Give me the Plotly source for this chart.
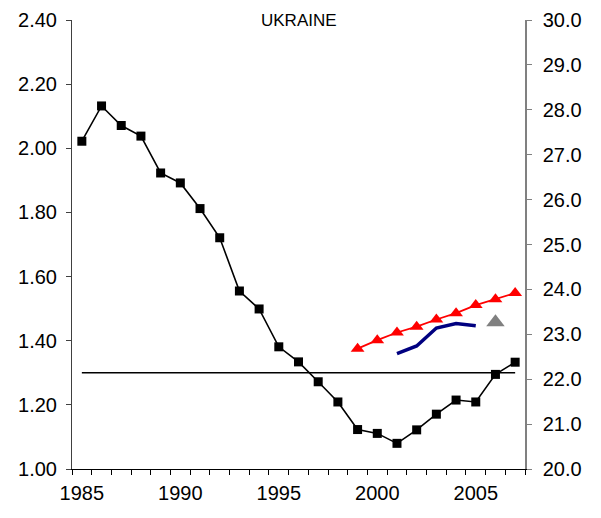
import plotly.graph_objects as go

years = list(range(1985, 2008))
black_vals = [2.022, 2.132, 2.071, 2.038, 1.923, 1.892, 1.812, 1.721, 1.555, 1.499,
              1.381, 1.334, 1.272, 1.209, 1.123, 1.111, 1.080, 1.122, 1.171, 1.215,
              1.209, 1.295, 1.333]
red_years = list(range(1999, 2008))
red_vals = [22.68, 22.87, 23.04, 23.17, 23.33, 23.47, 23.65, 23.78, 23.92]
blue_years = list(range(2001, 2006))
blue_vals = [22.57, 22.74, 23.14, 23.24, 23.19]
gray_years = [2006]
gray_vals = [23.27]
ref_years = [1985, 2007]
ref_vals = [1.30, 1.30]

left_ticks = [1.0, 1.2, 1.4, 1.6, 1.8, 2.0, 2.2, 2.4]
right_ticks = [20.0, 21.0, 22.0, 23.0, 24.0, 25.0, 26.0, 27.0, 28.0, 29.0, 30.0]
year_labels = [1985, 1990, 1995, 2000, 2005]
title_text = "UKRAINE"

half_years = [y - 0.5 for y in years] + [years[-1] + 0.5]

FONT = "Liberation Sans, Arial, sans-serif"

fig = go.Figure()
fig.add_trace(go.Scatter(x=ref_years, y=ref_vals, mode="lines",
                         line=dict(color="black", width=1.5), xaxis="x", yaxis="y",
                         showlegend=False, hoverinfo="skip"))
fig.add_trace(go.Scatter(x=years, y=black_vals, mode="lines+markers",
                         line=dict(color="black", width=1.6),
                         marker=dict(symbol="square", size=9, color="black"),
                         xaxis="x", yaxis="y", showlegend=False))
fig.add_trace(go.Scatter(x=red_years, y=red_vals, mode="lines+markers",
                         line=dict(color="#ff0000", width=1.8),
                         marker=dict(symbol="triangle-up", size=12, color="#ff0000"),
                         xaxis="x", yaxis="y2", showlegend=False))
fig.add_trace(go.Scatter(x=blue_years, y=blue_vals, mode="lines",
                         line=dict(color="#000080", width=3.5),
                         xaxis="x", yaxis="y2", showlegend=False))
fig.add_trace(go.Scatter(x=gray_years, y=gray_vals, mode="markers",
                         marker=dict(symbol="triangle-up", size=16, color="#808080"),
                         xaxis="x", yaxis="y2", showlegend=False))

fig.update_layout(
    width=593, height=510,
    margin=dict(l=64, r=76, t=12, b=49, autoexpand=False),
    paper_bgcolor="white", plot_bgcolor="white",
    font=dict(family=FONT, size=20, color="black"),
    xaxis=dict(range=[1984.5, 2007.5], tickvals=year_labels, ticks="",
               showgrid=False, zeroline=False, showline=True, linecolor="black",
               linewidth=1, ticklabelstandoff=6, automargin=False,
               minor=dict(tickvals=half_years, ticks="outside", ticklen=5,
                          tickcolor="black", tickwidth=1)),
    xaxis2=dict(range=[1984.5, 2007.5], overlaying="x", side="bottom", anchor="y",
                tickvals=half_years, ticks="inside", ticklen=2, tickcolor="black",
                showticklabels=False, showgrid=False, zeroline=False, showline=False,
                automargin=False),
    yaxis=dict(range=[1.0, 2.4], tickvals=left_ticks, tickformat=".2f",
               ticks="outside", ticklen=5, tickcolor="#404040",
               showgrid=False, zeroline=False, showline=True, linecolor="#404040",
               linewidth=1, ticklabelstandoff=5, automargin=False),
    yaxis3=dict(range=[1.0, 2.4], overlaying="y", side="left", anchor="x",
                tickvals=left_ticks, ticks="inside", ticklen=5, tickcolor="#404040",
                showticklabels=False, showgrid=False, zeroline=False, showline=False,
                automargin=False),
    yaxis2=dict(range=[20.0, 30.0], tickvals=right_ticks, tickformat=".1f",
                overlaying="y", side="right", anchor="x",
                ticks="outside", ticklen=5, tickcolor="#808080",
                showgrid=False, zeroline=False, showline=True, linecolor="#808080",
                linewidth=1.5, ticklabelstandoff=7, automargin=False),
    yaxis4=dict(range=[20.0, 30.0], overlaying="y", side="right", anchor="x",
                tickvals=right_ticks, ticks="inside", ticklen=5, tickcolor="#808080",
                showticklabels=False, showgrid=False, zeroline=False, showline=False,
                automargin=False),
    annotations=[dict(text=title_text, x=0.5, y=1.0, xref="paper", yref="paper",
                      xanchor="center", yanchor="middle", showarrow=False,
                      font=dict(family=FONT, size=17, color="black"))],
)

fig.write_html("out.html")
